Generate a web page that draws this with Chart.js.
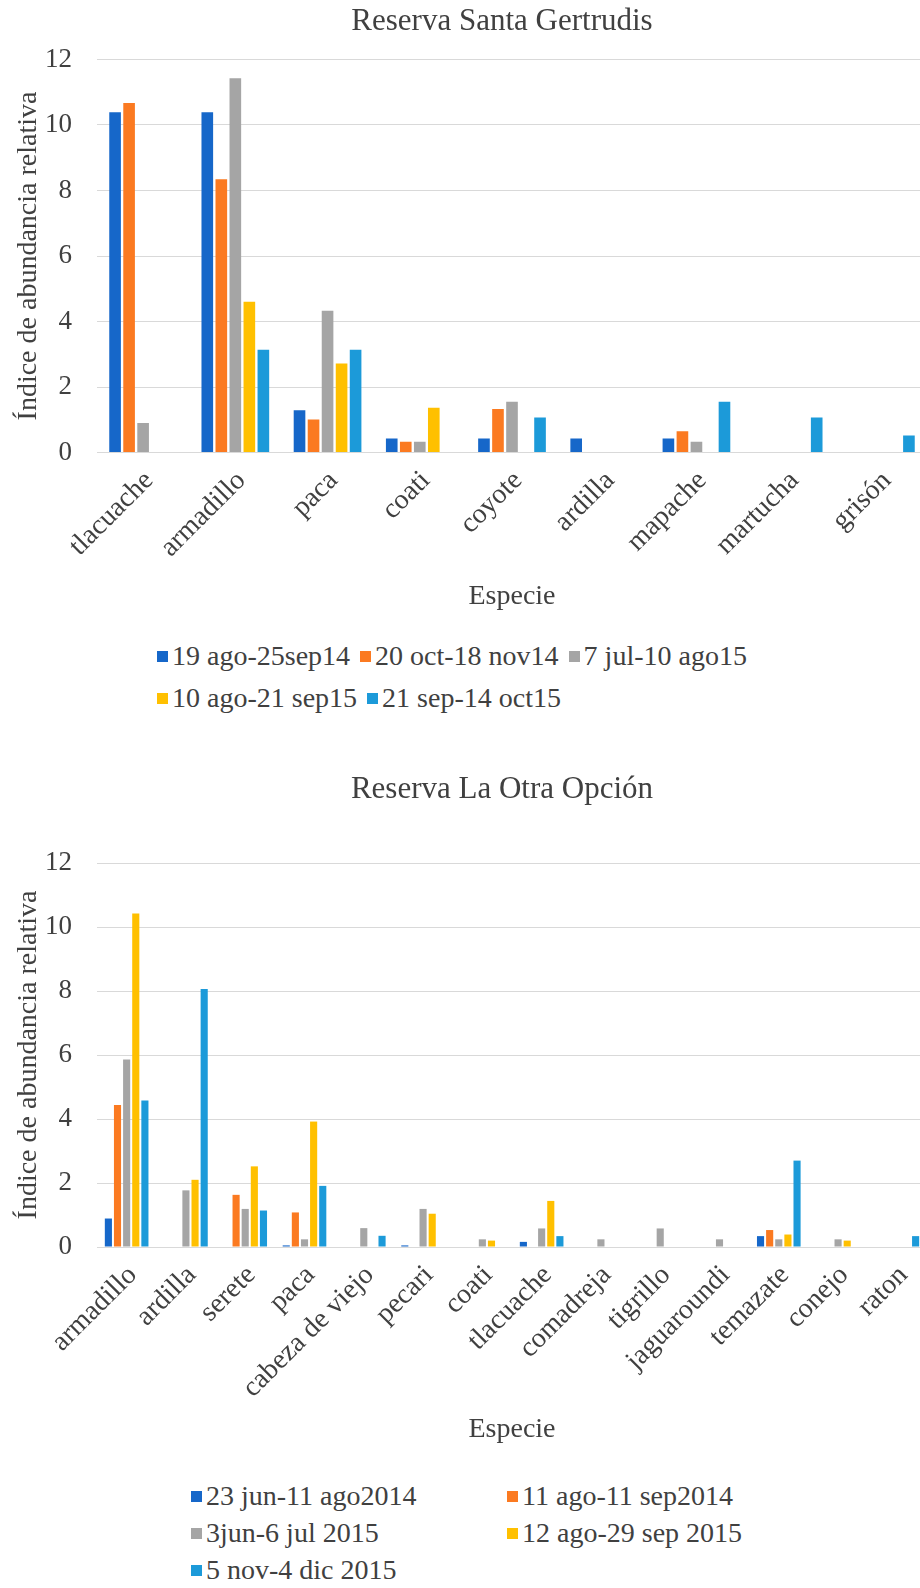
<!DOCTYPE html>
<html>
<head>
<meta charset="utf-8">
<script src="https://cdn.jsdelivr.net/npm/chart.js@4.4.1/dist/chart.umd.min.js"></script>
<style>
    body { margin: 0; background: #fff; }
    #page { position: relative; width: 920px; height: 1588px; overflow: hidden; font-family: 'Liberation Serif', serif; color: #404040; }
    .box { position: absolute; left: 0; width: 1004px; }
    .box canvas { display: block; }
    .legend { position: absolute; font-size: 28px; line-height: 32px; display: flex; flex-wrap: wrap; }
    .legend .item { white-space: nowrap; display: flex; align-items: center; }
    .legend .item i { display: inline-block; width: 11px; height: 11px; margin-right: 4px; }
    #legend1 { left: 157px; top: 640px; width: 615px; column-gap: 10px; row-gap: 10px; }
    #legend2 { left: 191px; top: 1480px; width: 650px; row-gap: 5px; }
    #legend2 .item { width: 316px; }
</style>
</head>
<body>
<div id="page">
    <div class="box" style="top:0px"><canvas id="chart1" width="1004" height="630" style="width:1004px;height:630px"></canvas></div>
    <div class="legend" id="legend1"></div>
    <div class="box" style="top:740px"><canvas id="chart2" width="1004" height="710" style="width:1004px;height:710px"></canvas></div>
    <div class="legend" id="legend2"></div>
</div>
<script>
    // colores de las series (Excel)
    var colors = ['#1667C9', '#FB7A21', '#A5A5A5', '#FFC000', '#1C9AD9'];

    // Reserva Santa Gertrudis
    var especies1 = ['tlacuache', 'armadillo', 'paca', 'coati', 'coyote', 'ardilla', 'mapache', 'martucha', 'grisón'];
    var periodos1 = ['19 ago-25sep14', '20 oct-18 nov14', '7 jul-10 ago15', '10 ago-21 sep15', '21 sep-14 oct15'];
    var sg_ago14 = [10.39, 10.39, 1.29, 0.43, 0.43, 0.43, 0.43, null, null];
    var sg_oct14 = [10.67, 8.34, 1.01, 0.33, 1.33, null, 0.65, null, null];
    var sg_jul15 = [0.9, 11.43, 4.33, 0.33, 1.55, null, 0.33, null, null];
    var sg_ago15 = [null, 4.6, 2.72, 1.37, null, null, null, null, null];
    var sg_sep15 = [null, 3.14, 3.14, null, 1.07, null, 1.55, 1.07, 0.52];

    // Reserva La Otra Opción
    var especies2 = ['armadillo', 'ardilla', 'serete', 'paca', 'cabeza de viejo', 'pecari', 'coati', 'tlacuache', 'comadreja', 'tigrillo', 'jaguaroundi', 'temazate', 'conejo', 'raton'];
    var periodos2 = ['23 jun-11 ago2014', '11 ago-11 sep2014', '3jun-6 jul 2015', '12 ago-29 sep 2015', '5 nov-4 dic 2015'];
    var oo_jun14 = [0.89, null, null, 0.05, null, 0.05, null, 0.16, null, null, null, 0.34, null, null];
    var oo_ago14 = [4.44, null, 1.63, 1.08, null, null, null, null, null, null, null, 0.53, null, null];
    var oo_jun15 = [5.86, 1.77, 1.19, 0.24, 0.59, 1.19, 0.24, 0.58, 0.24, 0.58, 0.24, 0.24, 0.24, null];
    var oo_ago15 = [10.42, 2.1, 2.52, 3.92, null, 1.04, 0.2, 1.44, null, null, null, 0.39, 0.2, null];
    var oo_nov15 = [4.58, 8.06, 1.14, 1.91, 0.35, null, null, 0.34, null, null, null, 2.7, null, 0.34];

    var yTicks = [0, 2, 4, 6, 8, 10, 12];

    var FONT = 'Liberation Serif';
    var TEXT = '#404040';

    function buildDatasets(names, series, catPct, barPct) {
        return series.map(function (data, i) {
            return {
                label: names[i],
                data: data,
                backgroundColor: colors[i],
                borderWidth: 0,
                categoryPercentage: catPct,
                barPercentage: barPct
            };
        });
    }

    function buildLegend(id, names) {
        var el = document.getElementById(id);
        names.forEach(function (n, i) {
            var item = document.createElement('span');
            item.className = 'item';
            item.innerHTML = '<i style="background:' + colors[i] + '"></i>' + n;
            el.appendChild(item);
        });
    }

    function makeChart(id, title, labels, datasets, cfg) {
        var ctx = document.getElementById(id).getContext('2d');
        return new Chart(ctx, {
            type: 'bar',
            data: { labels: labels, datasets: datasets },
            options: {
                responsive: false,
                animation: false,
                layout: { padding: 0 },
                plugins: {
                    legend: { display: false },
                    tooltip: { enabled: false },
                    title: {
                        display: true,
                        text: title,
                        color: TEXT,
                        font: { family: FONT, size: 31, weight: 'normal' },
                        padding: cfg.titlePad
                    }
                },
                scales: {
                    x: {
                        grid: { display: false },
                        border: { color: '#D9D9D9' },
                        ticks: {
                            color: TEXT,
                            font: { family: FONT, size: 28 },
                            autoSkip: false,
                            minRotation: 45,
                            maxRotation: 45,
                            padding: 4,
                            labelOffset: 6
                        },
                        title: {
                            display: true,
                            text: 'Especie',
                            color: TEXT,
                            font: { family: FONT, size: 28 },
                            padding: { top: 0, bottom: cfg.xTitleBottom }
                        },
                        afterFit: function (scale) { scale.height = cfg.xHeight; }
                    },
                    y: {
                        min: 0,
                        max: 12,
                        afterBuildTicks: function (scale) {
                            scale.ticks = yTicks.map(function (v) { return { value: v }; });
                        },
                        grid: { color: '#D9D9D9', drawTicks: false },
                        border: { display: false },
                        ticks: {
                            color: TEXT,
                            font: { family: FONT, size: 27 },
                            padding: 25
                        },
                        title: {
                            display: true,
                            text: 'Índice de abundancia relativa',
                            color: TEXT,
                            font: { family: FONT, size: 28 },
                            padding: { top: 12, bottom: 0 }
                        },
                        afterFit: function (scale) { scale.width = 97; }
                    },
                    // margen derecho: el área del gráfico sigue más allá del recorte
                    margen: {
                        position: 'right',
                        grid: { display: false },
                        border: { display: false },
                        ticks: { display: false },
                        afterFit: function (scale) { scale.width = 77; }
                    }
                }
            }
        });
    }

    makeChart('chart1', 'Reserva Santa Gertrudis', especies1,
        buildDatasets(periodos1, [sg_ago14, sg_oct14, sg_jul15, sg_ago15, sg_sep15], 0.76, 0.83),
        { titlePad: { top: 3.4, bottom: 18.9 }, xTitleBottom: 16.2, xHeight: 177.5 });

    makeChart('chart2', 'Reserva La Otra Opción', especies2,
        buildDatasets(periodos2, [oo_jun14, oo_ago14, oo_jun15, oo_ago15, oo_nov15], 0.77, 0.78),
        { titlePad: { top: 31.4, bottom: 54.4 }, xTitleBottom: 3.2, xHeight: 203 });

    buildLegend('legend1', periodos1);
    buildLegend('legend2', periodos2);
</script>
</body>
</html>
